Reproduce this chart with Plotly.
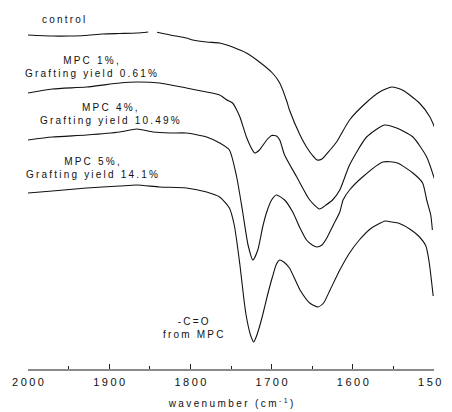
import plotly.graph_objects as go

# ---- data (wavenumber in cm^-1, transmittance in arbitrary offset units) ----
control_wn = [2000, 1970, 1949, 1930, 1908, 1887, 1866, 1852, 1847, 1841, 1825, 1805, 1797, 1780,
              1764, 1755, 1748, 1731, 1715, 1699, 1690, 1681, 1678, 1665, 1657, 1650, 1644,
              1638, 1628, 1620, 1604, 1584, 1567, 1552, 1539, 1518, 1505, 1497]
control_t = [334, 333, 333, 333.5, 335, 335.5, 336, 337, None, 336.7, 334, 331, 329, 327,
             326, 324, 322, 316, 307, 296, 286, 267, 259, 234, 222, 214, 209,
             210, 219, 227, 249, 266, 277, 282, 279, 266, 252, 237]

mpc1_wn = [2000, 1970, 1928, 1887, 1866, 1838, 1805, 1780, 1764, 1755, 1748, 1743, 1739, 1731,
           1725, 1721, 1715, 1706, 1700, 1694, 1690, 1684, 1669, 1653, 1641, 1633, 1625,
           1616, 1604, 1583, 1561, 1546, 1526, 1509, 1499]
mpc1_t = [276, 280, 282, 286, 287, 286, 281, 277, 274, 269, 266, 259, 252, 232,
          221, 216, 219, 229, 233.5, 233, 229, 214, 192, 169, 160, 164, 169,
          179, 204, 232, 244, 241, 232, 212, 189]

mpc4_wn = [2000, 1970, 1928, 1887, 1866, 1846, 1825, 1805, 1780, 1764, 1752, 1743, 1736, 1729,
           1723, 1717, 1711, 1706, 1700, 1694, 1684, 1674, 1665, 1657, 1650, 1644, 1638,
           1632, 1624, 1616, 1612, 1604, 1588, 1563, 1545, 1526, 1514, 1509, 1504, 1502]
mpc4_t = [229, 232, 234, 237, 240, 237, 236, 236, 232, 226, 219, 192, 159, 124,
          109, 119, 142, 157, 169, 174, 169, 157, 141, 129, 124, 122, 124,
          131, 144, 157, 169, 179, 192, 207, 206, 196, 186, 169, 154, 139]

mpc5_wn = [2000, 1970, 1928, 1887, 1866, 1838, 1805, 1780, 1764, 1752, 1746, 1739, 1734, 1731,
           1726, 1722, 1719, 1715, 1711, 1705, 1699, 1694, 1690, 1685, 1678, 1665, 1653,
           1643, 1636, 1628, 1616, 1604, 1592, 1577, 1560, 1552, 1544, 1530, 1519, 1510,
           1506, 1501]
mpc5_t = [176, 178, 181, 183, 184, 182, 181, 177, 172, 161, 144, 104, 69, 52,
          34, 27, 32, 42, 54, 74, 92, 105, 109, 107, 101, 79, 66,
          62, 66, 79, 99, 116, 129, 141, 148, 147, 146, 140, 133, 123,
          107, 73]

labels = ["control", "MPC 1%,<br>Grafting yield 0.61%",
          "MPC 4%,<br>Grafting yield 10.49%", "MPC 5%,<br>Grafting yield 14.1%"]
peak_label = "-C=O<br>from MPC"
tick_vals = [2000, 1900, 1800, 1700, 1600, 1500]
tick_text = ["2000", "1900", "1800", "1700", "1600", "1500"]


def spaced(s, px):
    """Letter-space each line, without trailing space after the last glyph."""
    out = []
    for line in s.split("<br>"):
        if len(line) > 1 and not line.endswith(">"):
            out.append('<span style="letter-spacing:%spx">%s</span>%s' % (px, line[:-1], line[-1]))
        else:
            out.append('<span style="letter-spacing:%spx">%s</span>' % (px, line))
    return "<br>".join(out)


FONT = "Liberation Sans, Arial, sans-serif"
fig = go.Figure()
for wn, t in [(control_wn, control_t), (mpc1_wn, mpc1_t), (mpc4_wn, mpc4_t), (mpc5_wn, mpc5_t)]:
    fig.add_trace(go.Scatter(x=wn, y=t, mode="lines", connectgaps=False,
                             line=dict(color="#111111", width=1.1, shape="spline", smoothing=0.6),
                             showlegend=False, hoverinfo="skip"))

# label placements (x in wavenumber, y in plot units)
ann_pos = [(1985.6, 350, "left"), (1922.8, 302, "center"), (1899.3, 255.5, "center"),
           (1921.4, 201.5, "center")]
for (ax, ay, anc), txt in zip(ann_pos, labels):
    fig.add_annotation(x=ax, y=ay, xref="x", yref="y", text=spaced(txt, 2.2), showarrow=False,
                       xanchor=anc, yanchor="middle", align="center",
                       font=dict(family=FONT, size=10, color="#111111"))
fig.add_annotation(x=1797, y=41.5, xref="x", yref="y", text=spaced(peak_label, 2.2),
                   showarrow=False, xanchor="center", yanchor="middle", align="center",
                   font=dict(family=FONT, size=10, color="#111111"))

# the page body adds an 8px offset, so the figure is 8px smaller than the window
fig.update_layout(
    width=444, height=404,
    margin=dict(l=20, r=18, t=0, b=43),
    paper_bgcolor="white", plot_bgcolor="white",
    xaxis=dict(range=[2000, 1500], tickvals=tick_vals,
               ticktext=[spaced(t, 2.5) for t in tick_text],
               ticks="inside", ticklen=5, tickwidth=1, tickcolor="#222222",
               minor=dict(ticks="inside", ticklen=3, tickwidth=1, tickcolor="#222222", dtick=50),
               showline=True, linecolor="#8a8a8a", linewidth=1.6,
               showgrid=False, zeroline=False, automargin=False,
               ticklabelstandoff=2,
               tickfont=dict(family=FONT, size=11, color="#111111"),
               title=dict(text='<span style="letter-spacing:2.4px">wavenumber (cm<sup>-1</sup></span>)',
                          standoff=13,
                          font=dict(family=FONT, size=10, color="#111111"))),
    yaxis=dict(range=[0, 361], visible=False, showgrid=False, zeroline=False),
)

fig.write_html("out.html")
